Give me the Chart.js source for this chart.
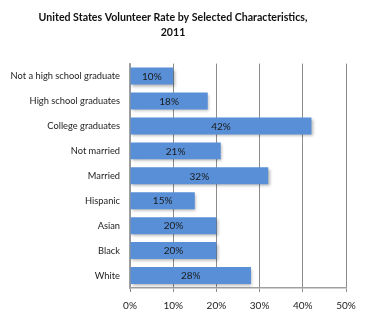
<!DOCTYPE html>
<html>
<head>
<meta charset="utf-8">
<script src="https://cdn.jsdelivr.net/npm/chart.js@4"></script>
<style>
  html, body { margin: 0; padding: 0; background: #fff; }
  #wrap { width: 366px; height: 321px; }
</style>
</head>
<body>
<div id="wrap"><canvas id="volChart" width="366" height="321"></canvas></div>
<script>
// Volunteer rate by group, 2011 (percent)
const categories = ["Not a high school graduate", "High school graduates", "College graduates",
                    "Not married", "Married", "Hispanic", "Asian", "Black", "White"];
const rates = [10, 18, 42, 21, 32, 15, 20, 20, 28];
const xTicks = [0, 10, 20, 30, 40, 50];

const FONT = "Lato, 'Open Sans', sans-serif";

// Soft drop shadow under the bars
const barShadow = {
    id: "barShadow",
    beforeDatasetsDraw(chart) {
        const ctx = chart.ctx;
        ctx.save();
        ctx.shadowColor = "rgba(0, 0, 0, 0.3)";
        ctx.shadowOffsetX = 1.5;
        ctx.shadowOffsetY = 2;
        ctx.shadowBlur = 3;
    },
    afterDatasetsDraw(chart) {
        chart.ctx.restore();
    }
};

// Value labels centred in each bar
const barLabels = {
    id: "barLabels",
    afterDatasetsDraw(chart) {
        const ctx = chart.ctx;
        const meta = chart.getDatasetMeta(0);
        ctx.save();
        ctx.fillStyle = "#1a1a1a";
        ctx.font = "10px " + FONT;
        ctx.textAlign = "center";
        ctx.textBaseline = "middle";
        meta.data.forEach((bar, i) => {
            const p = bar.getProps(["x", "y", "base"], true);
            ctx.fillText(rates[i] + "%", (p.x + p.base) / 2, p.y + 0.5);
        });
        ctx.restore();
    }
};

new Chart(document.getElementById("volChart"), {
    type: "bar",
    data: {
        labels: categories,
        datasets: [{
            data: rates,
            backgroundColor: "#588fd7",
            borderWidth: 0,
            categoryPercentage: 1,
            barPercentage: 0.68
        }]
    },
    options: {
        indexAxis: "y",
        responsive: false,
        animation: false,
        layout: { padding: { left: 0, right: 20, top: 0, bottom: 0 } },
        scales: {
            x: {
                min: 0,
                max: 50,
                afterBuildTicks(scale) {
                    scale.ticks = xTicks.map(v => ({ value: v }));
                },
                afterFit(scale) { scale.height = 33; },
                grid: { color: "#8c8c8c", lineWidth: 1, tickLength: 4, drawTicks: true },
                border: { color: "#a0a0a0", width: 1.5 },
                ticks: {
                    color: "#222",
                    font: { family: FONT, size: 10 },
                    padding: 8,
                    callback: v => v + "%"
                }
            },
            y: {
                afterFit(scale) { scale.width = 130; },
                grid: { display: false },
                border: { color: "#a0a0a0", width: 1.5 },
                ticks: {
                    color: "#222",
                    font: { family: FONT, size: 9.3 },
                    padding: 2
                }
            }
        },
        plugins: {
            legend: { display: false },
            tooltip: { enabled: false },
            title: {
                display: true,
                text: ["United States Volunteer Rate by Selected Characteristics,", "2011"],
                color: "#111",
                font: { family: FONT, size: 10.6, weight: "bold", lineHeight: 1.42 },
                padding: { top: 10.5, bottom: 23 }
            }
        }
    },
    plugins: [barShadow, barLabels]
});
</script>
</body>
</html>
